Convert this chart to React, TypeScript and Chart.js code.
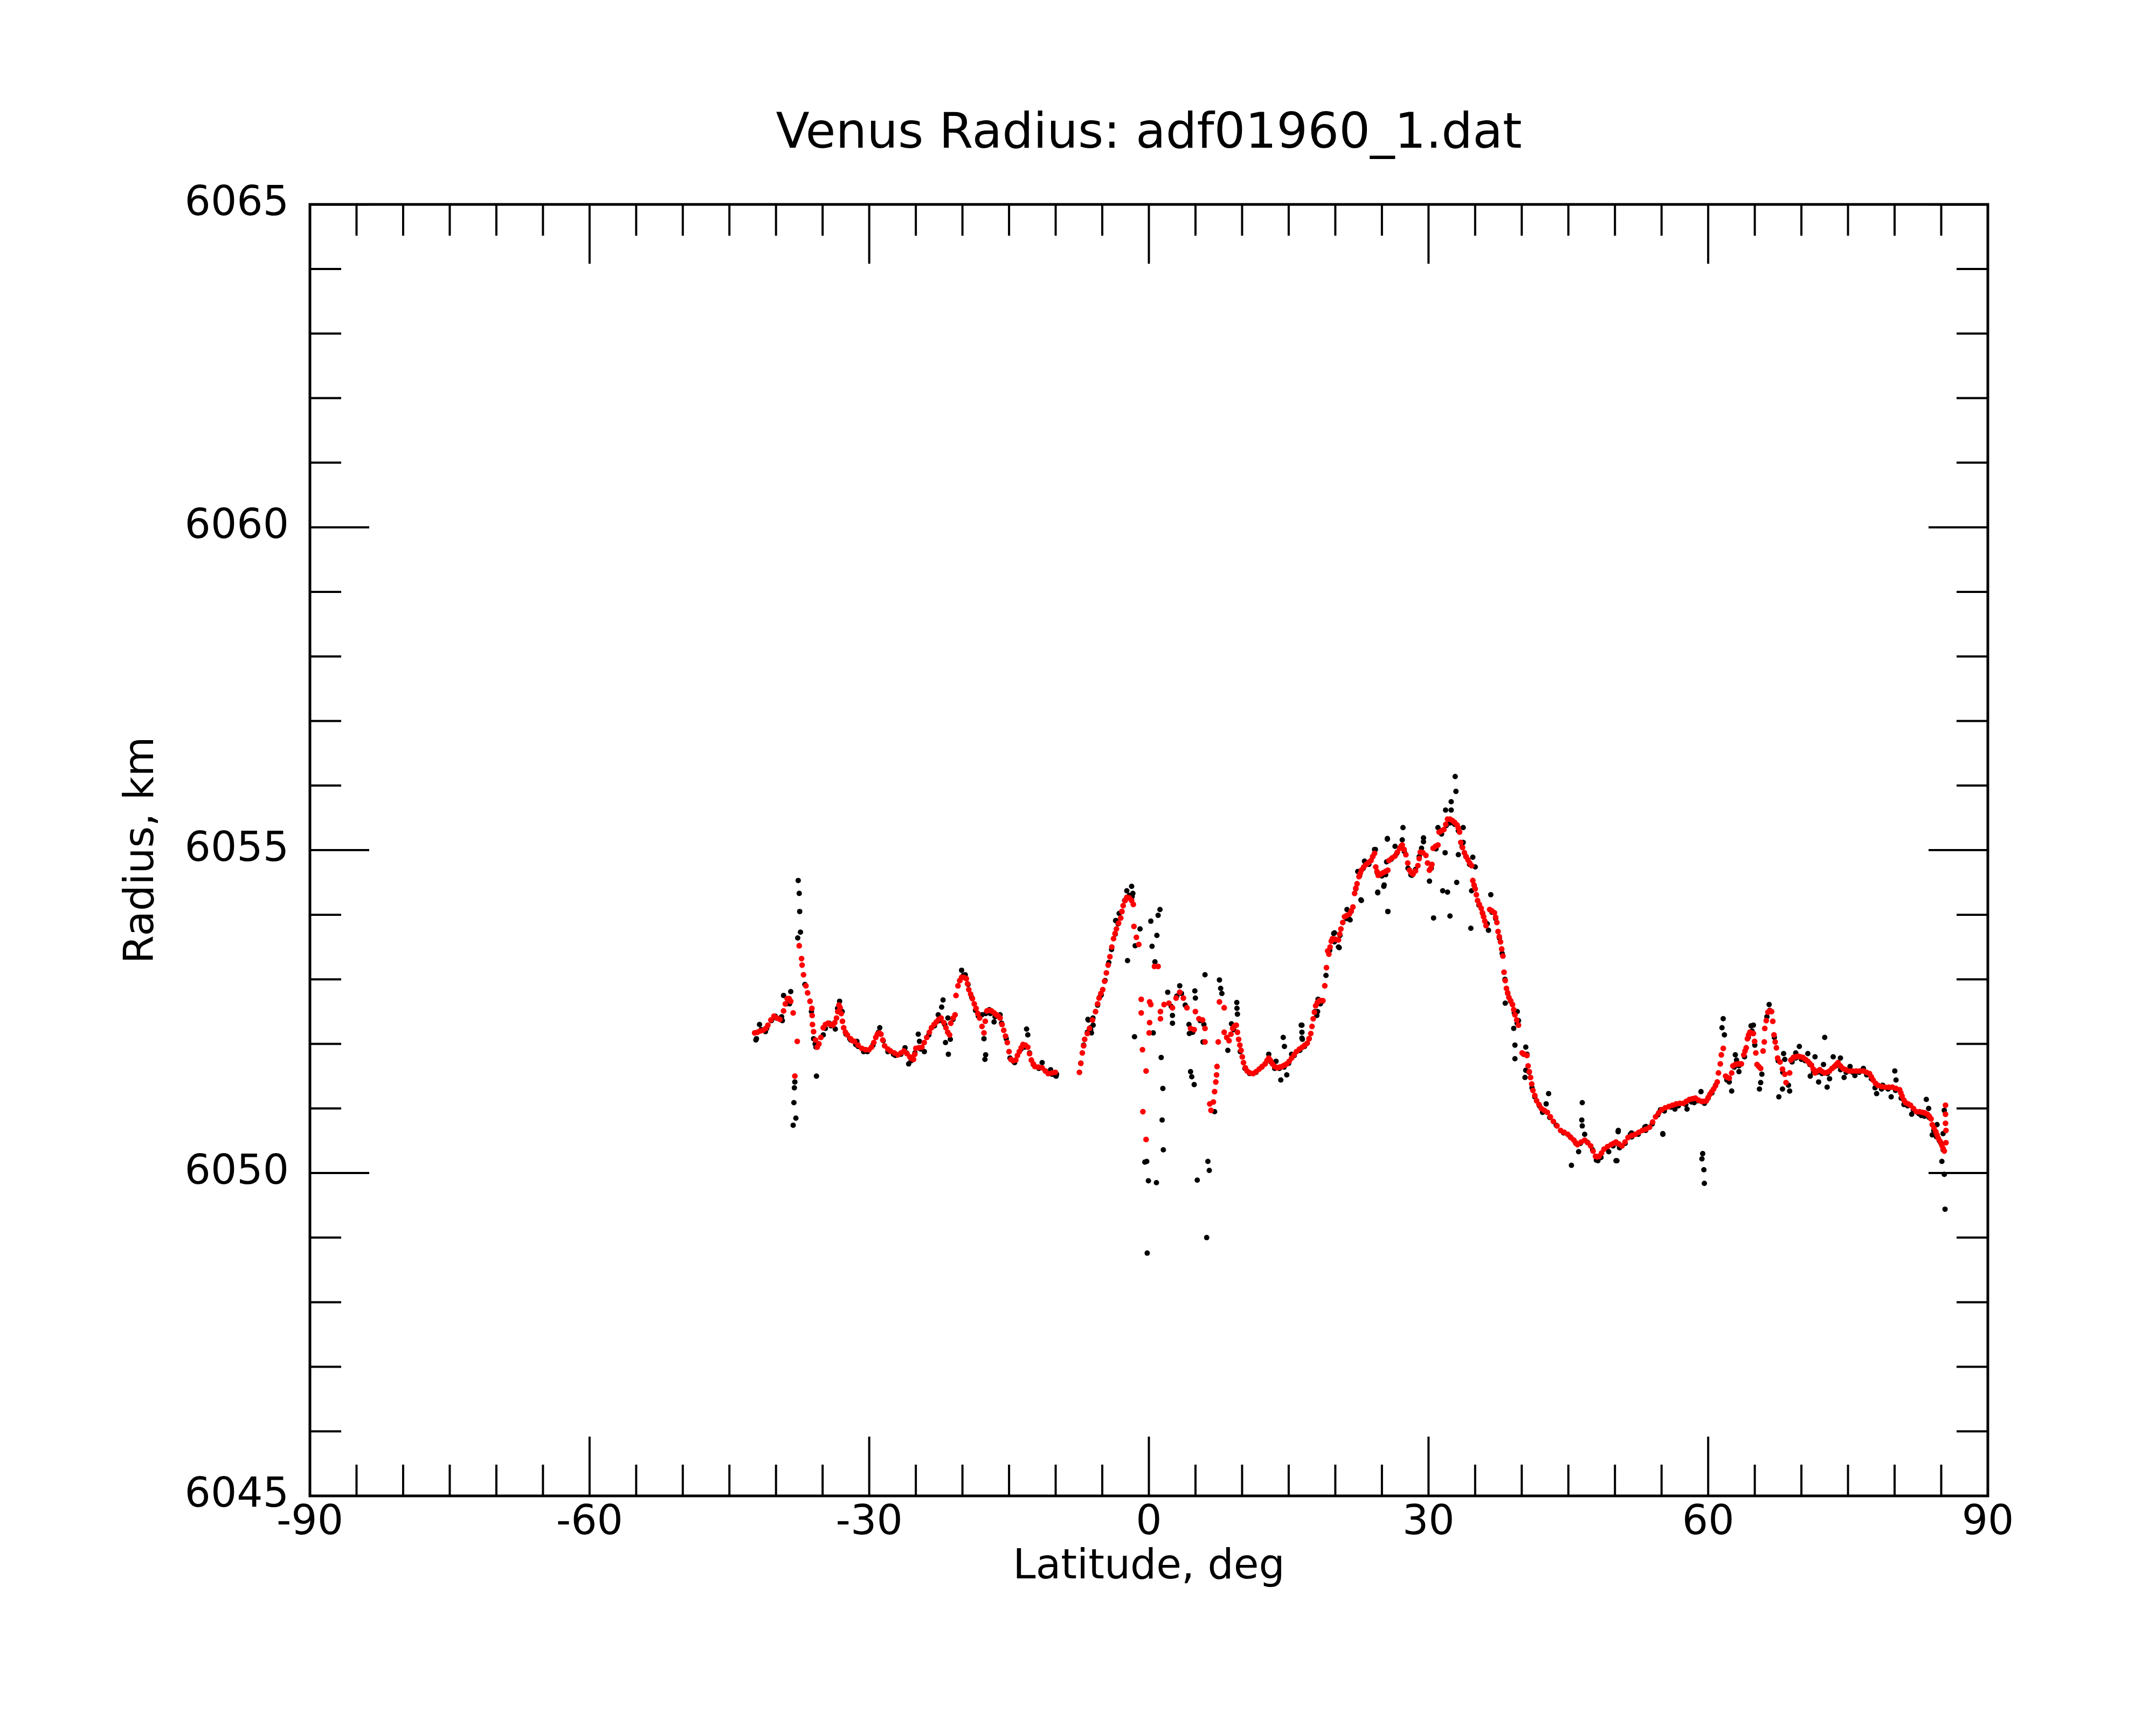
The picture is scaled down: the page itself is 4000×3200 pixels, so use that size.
import React, { useEffect, useRef } from 'react';
import { Chart, registerables } from 'chart.js';

Chart.register(...registerables);

// smoothed radius (red): [latitude deg, radius km]
const redSouth: [number, number][] = [
  [-42.29, 6052.17], [-42.0, 6052.18], [-41.7, 6052.20], [-41.39, 6052.21], [-41.1, 6052.24], [-40.87, 6052.29],
  [-40.55, 6052.37], [-40.22, 6052.43], [-39.9, 6052.40], [-39.58, 6052.38], [-39.19, 6052.51], [-39.0, 6052.62],
  [-38.80, 6052.70], [-38.6, 6052.70], [-38.42, 6052.66], [-38.16, 6052.48], [-37.98, 6051.50], [-37.72, 6052.04],
  [-37.51, 6053.52], [-37.26, 6053.32], [-37.20, 6053.22], [-37.05, 6053.07], [-36.79, 6052.90], [-36.61, 6052.79],
  [-36.35, 6052.66], [-36.15, 6052.55], [-36.12, 6052.44], [-36.09, 6052.30], [-35.97, 6052.19], [-35.76, 6052.06],
  [-35.58, 6051.95], [-35.4, 6052.00], [-35.19, 6052.10], [-34.93, 6052.25], [-34.7, 6052.30], [-34.42, 6052.32],
  [-34.15, 6052.30], [-33.90, 6052.29], [-33.7, 6052.33], [-33.51, 6052.40], [-33.38, 6052.50], [-33.25, 6052.60],
  [-33.12, 6052.56], [-33.00, 6052.47], [-32.87, 6052.35], [-32.74, 6052.25], [-32.55, 6052.18], [-32.35, 6052.14],
  [-32.0, 6052.08], [-31.8, 6052.05], [-31.58, 6052.04], [-31.2, 6051.98], [-30.80, 6051.93], [-30.4, 6051.91],
  [-30.03, 6051.91], [-29.75, 6051.95], [-29.51, 6052.02], [-29.3, 6052.10], [-29.13, 6052.15], [-28.93, 6052.17],
  [-28.74, 6052.15], [-28.55, 6052.06], [-28.35, 6051.97], [-28.0, 6051.92], [-27.71, 6051.89], [-27.3, 6051.86],
  [-26.93, 6051.83], [-26.6, 6051.86], [-26.29, 6051.89], [-25.95, 6051.85], [-25.64, 6051.80], [-25.45, 6051.77],
  [-25.25, 6051.76], [-25.12, 6051.84], [-25.00, 6051.93], [-24.7, 6051.94], [-24.35, 6051.95], [-24.1, 6052.02],
  [-23.83, 6052.10], [-23.55, 6052.18], [-23.32, 6052.25], [-23.05, 6052.30], [-22.80, 6052.34], [-22.55, 6052.38],
  [-22.29, 6052.40], [-22.0, 6052.33], [-21.77, 6052.25], [-21.58, 6052.18], [-21.38, 6052.14], [-21.25, 6052.32],
  [-21.0, 6052.40], [-20.79, 6052.45], [-20.69, 6052.75], [-20.48, 6052.90], [-20.28, 6052.98], [-20.09, 6053.03],
  [-19.85, 6053.03], [-19.58, 6053.01], [-19.45, 6052.93], [-19.32, 6052.84], [-19.12, 6052.77], [-18.93, 6052.70],
  [-18.73, 6052.62], [-18.54, 6052.55], [-18.35, 6052.47], [-18.16, 6052.40], [-17.90, 6052.27], [-17.69, 6052.17],
  [-17.55, 6052.35], [-17.38, 6052.51], [-17.12, 6052.52], [-16.87, 6052.51], [-16.6, 6052.48], [-16.35, 6052.45],
  [-16.15, 6052.43], [-15.96, 6052.40], [-15.75, 6052.30], [-15.57, 6052.21], [-15.38, 6052.12], [-15.19, 6052.02],
  [-15.0, 6051.88], [-14.80, 6051.76], [-14.55, 6051.74], [-14.28, 6051.75], [-14.1, 6051.82], [-13.90, 6051.88],
  [-13.7, 6051.94], [-13.51, 6051.99], [-13.25, 6051.98], [-12.99, 6051.95], [-12.8, 6051.85], [-12.61, 6051.75],
  [-12.4, 6051.69], [-12.22, 6051.65], [-11.85, 6051.64], [-11.45, 6051.63], [-11.1, 6051.58], [-10.80, 6051.54],
  [-10.4, 6051.55], [-10.03, 6051.56],
];
const redEquator: [number, number][] = [
  [-7.45, 6051.56], [-7.3, 6051.70], [-7.14, 6051.86], [-7.0, 6051.97], [-6.89, 6052.07], [-6.6, 6052.16],
  [-6.37, 6052.24], [-6.05, 6052.37], [-5.72, 6052.50], [-5.5, 6052.62], [-5.34, 6052.71], [-5.15, 6052.78],
  [-4.95, 6052.84], [-4.75, 6052.97], [-4.56, 6053.10], [-4.37, 6053.22], [-4.18, 6053.35], [-3.98, 6053.50],
  [-3.79, 6053.63], [-3.63, 6053.71], [-3.48, 6053.78], [-3.25, 6053.87], [-3.02, 6053.95], [-2.89, 6054.05],
  [-2.76, 6054.14], [-2.55, 6054.22], [-2.37, 6054.27], [-2.1, 6054.26], [-1.85, 6054.22], [-1.67, 6054.16],
  [-1.60, 6053.82], [-1.34, 6053.65], [-1.08, 6053.54], [-0.82, 6052.69], [-0.82, 6052.48], [-0.69, 6051.91],
  [-0.64, 6050.95], [-0.30, 6051.58], [-0.30, 6050.52], [0.03, 6052.17], [0.08, 6052.65], [0.08, 6052.33],
  [0.21, 6052.61], [0.60, 6053.20], [0.99, 6053.20], [1.24, 6052.50], [1.24, 6052.39], [1.63, 6052.61],
  [2.15, 6052.63], [2.53, 6052.56], [2.92, 6052.71], [3.31, 6052.80], [3.70, 6052.71], [4.08, 6052.56],
  [4.47, 6052.24], [4.86, 6052.22], [4.99, 6052.50], [5.37, 6052.39], [5.76, 6052.37], [6.02, 6052.24],
  [6.02, 6052.03], [6.53, 6051.07], [6.66, 6050.97], [6.92, 6051.10], [7.05, 6051.26], [7.18, 6051.41],
  [7.26, 6051.52], [7.31, 6051.65], [7.44, 6052.03], [7.57, 6052.65], [8.08, 6052.56],
];
const redNorth: [number, number][] = [
  [8.08, 6052.18], [8.35, 6052.10], [8.60, 6052.05], [8.8, 6052.15], [8.99, 6052.24], [9.2, 6052.28], [9.38, 6052.29],
  [9.5, 6052.18], [9.63, 6052.07], [9.76, 6051.98], [9.89, 6051.90], [10.02, 6051.80], [10.15, 6051.71], [10.35, 6051.63],
  [10.54, 6051.58], [10.85, 6051.55], [11.18, 6051.54], [11.5, 6051.57], [11.83, 6051.61], [12.15, 6051.65], [12.47, 6051.69],
  [12.67, 6051.74], [12.86, 6051.78], [13.05, 6051.74], [13.25, 6051.69], [13.5, 6051.65], [13.76, 6051.63], [14.02, 6051.64],
  [14.28, 6051.65], [14.53, 6051.67], [14.79, 6051.69], [15.05, 6051.73], [15.31, 6051.78], [15.57, 6051.83], [15.83, 6051.88],
  [16.15, 6051.92], [16.47, 6051.95], [16.73, 6051.98], [16.99, 6052.01], [17.18, 6052.08], [17.37, 6052.16], [17.5, 6052.27],
  [17.63, 6052.39], [17.76, 6052.49], [17.89, 6052.59], [18.08, 6052.64], [18.28, 6052.67], [18.47, 6052.67], [18.67, 6052.67],
  [18.87, 6052.90], [19.05, 6053.18], [19.18, 6053.44], [19.31, 6053.39], [19.44, 6053.50], [19.57, 6053.59], [19.70, 6053.63],
  [20.0, 6053.62], [20.34, 6053.61], [20.47, 6053.70], [20.60, 6053.78], [20.8, 6053.88], [20.99, 6053.97], [21.25, 6053.99],
  [21.50, 6054.01], [21.7, 6054.06], [21.89, 6054.12], [22.07, 6054.33], [22.2, 6054.41], [22.33, 6054.48], [22.54, 6054.59],
  [22.67, 6054.64], [22.80, 6054.69], [23.05, 6054.74], [23.31, 6054.78], [23.57, 6054.81], [23.83, 6054.84], [24.02, 6054.90],
  [24.21, 6054.95], [24.34, 6054.74], [24.47, 6054.67], [24.60, 6054.61], [24.86, 6054.63], [25.12, 6054.65], [25.38, 6054.67],
  [25.63, 6054.69], [25.76, 6054.84], [26.1, 6054.88], [26.41, 6054.91], [26.66, 6054.97], [26.92, 6055.03], [27.05, 6055.06],
  [27.18, 6055.08], [27.38, 6055.01], [27.57, 6054.93], [27.77, 6054.80], [27.96, 6054.69], [28.15, 6054.65], [28.34, 6054.63],
  [28.6, 6054.68], [28.86, 6054.76], [29.0, 6054.87], [29.12, 6054.97], [29.4, 6054.96], [29.72, 6054.92], [29.9, 6054.80],
  [30.10, 6054.69], [30.23, 6054.72], [30.36, 6054.78], [30.49, 6055.03], [30.75, 6055.06], [31.01, 6055.08], [31.14, 6055.28],
  [31.4, 6055.30], [31.65, 6055.32], [31.85, 6055.40], [32.04, 6055.48], [32.3, 6055.48], [32.55, 6055.46], [32.8, 6055.43],
  [33.07, 6055.39], [33.2, 6055.34], [33.33, 6055.28], [33.46, 6055.12], [33.65, 6055.04], [33.85, 6054.96], [34.04, 6054.90],
  [34.23, 6054.85], [34.42, 6054.80], [34.62, 6054.76], [34.75, 6054.53], [34.88, 6054.46], [35.01, 6054.40], [35.13, 6054.31],
  [35.26, 6054.22], [35.45, 6054.16], [35.65, 6054.10], [35.78, 6054.03], [35.91, 6053.97], [36.04, 6053.90], [36.17, 6053.83],
  [36.56, 6054.08], [36.8, 6054.06], [37.07, 6054.03], [37.2, 6053.96], [37.33, 6053.88], [37.46, 6053.74], [37.59, 6053.66],
  [37.72, 6053.58], [37.85, 6053.47], [37.98, 6053.36], [38.10, 6053.11], [38.23, 6052.98], [38.36, 6052.86], [38.49, 6052.79],
  [38.62, 6052.72], [38.8, 6052.67], [39.01, 6052.61], [39.14, 6052.53], [39.27, 6052.45], [39.46, 6052.37], [39.65, 6052.29],
  [40.04, 6051.86], [40.3, 6051.84], [40.56, 6051.82], [40.68, 6051.66], [40.81, 6051.57], [40.94, 6051.48], [41.07, 6051.38],
  [41.20, 6051.28], [41.4, 6051.20], [41.59, 6051.12], [41.85, 6051.06], [42.10, 6051.00], [42.42, 6050.97], [42.75, 6050.94],
  [43.07, 6050.87], [43.39, 6050.80], [43.78, 6050.73], [44.17, 6050.66], [44.55, 6050.63], [44.94, 6050.60], [45.27, 6050.55],
  [45.59, 6050.51], [45.78, 6050.47], [45.98, 6050.44], [46.37, 6050.48], [46.75, 6050.51], [47.08, 6050.47], [47.40, 6050.42],
  [47.65, 6050.34], [47.91, 6050.26], [48.1, 6050.25], [48.30, 6050.26], [48.56, 6050.31], [48.82, 6050.37], [49.2, 6050.41],
  [49.59, 6050.44], [49.85, 6050.46], [50.11, 6050.48], [50.43, 6050.45], [50.75, 6050.42], [51.08, 6050.48], [51.40, 6050.55],
  [51.78, 6050.58], [52.17, 6050.60], [52.55, 6050.63], [52.94, 6050.66], [53.33, 6050.68], [53.72, 6050.71], [54.04, 6050.79],
  [54.36, 6050.87], [54.68, 6050.93], [55.01, 6050.98], [55.4, 6051.01], [55.78, 6051.03], [56.17, 6051.05], [56.56, 6051.07],
  [56.95, 6051.08], [57.34, 6051.08], [57.66, 6051.11], [57.99, 6051.14], [58.31, 6051.15], [58.63, 6051.16], [58.95, 6051.13],
  [59.28, 6051.11], [59.54, 6051.11], [59.80, 6051.12], [60.0, 6051.17], [60.19, 6051.22], [60.38, 6051.26], [60.58, 6051.30],
  [60.78, 6051.35], [60.97, 6051.41], [61.10, 6051.55], [61.30, 6051.69], [61.41, 6051.83], [61.62, 6051.93], [61.87, 6051.50],
  [62.06, 6051.48], [62.26, 6051.47], [62.52, 6051.55], [62.65, 6051.66], [62.9, 6051.68], [63.17, 6051.69], [63.36, 6051.69],
  [63.56, 6051.69], [63.82, 6051.83], [63.95, 6051.89], [64.08, 6051.94], [64.21, 6052.08], [64.34, 6052.14], [64.47, 6052.18],
  [64.66, 6052.17], [64.85, 6052.16], [64.98, 6052.04], [65.11, 6051.86], [65.24, 6051.68], [65.43, 6051.65], [65.63, 6051.62],
  [65.89, 6051.89], [66.02, 6052.03], [66.07, 6052.24], [66.23, 6052.36], [66.41, 6052.49], [66.6, 6052.51], [66.80, 6052.50],
  [66.93, 6052.35], [67.06, 6052.14], [67.19, 6052.03], [67.32, 6051.94], [67.45, 6051.78], [67.71, 6051.72], [67.97, 6051.61],
  [68.22, 6051.53], [68.35, 6051.40], [68.74, 6051.55], [68.87, 6051.75], [69.13, 6051.79], [69.39, 6051.80], [69.65, 6051.81],
  [69.91, 6051.80], [70.17, 6051.79], [70.43, 6051.76], [70.69, 6051.73], [70.88, 6051.70], [71.08, 6051.67], [71.27, 6051.61],
  [71.46, 6051.55], [71.72, 6051.58], [71.98, 6051.60], [72.24, 6051.57], [72.50, 6051.55], [72.76, 6051.56], [73.02, 6051.58],
  [73.28, 6051.62], [73.54, 6051.65], [73.74, 6051.68], [73.93, 6051.71], [74.19, 6051.66], [74.45, 6051.62], [74.77, 6051.60],
  [75.09, 6051.58], [75.48, 6051.58], [75.87, 6051.58], [76.26, 6051.58], [76.65, 6051.58], [76.98, 6051.56], [77.30, 6051.54],
  [77.5, 6051.49], [77.69, 6051.44], [77.95, 6051.39], [78.20, 6051.36], [78.6, 6051.34], [78.98, 6051.33], [79.37, 6051.33],
  [79.76, 6051.33], [80.15, 6051.31], [80.54, 6051.29], [80.67, 6051.24], [80.80, 6051.19], [81.0, 6051.13], [81.18, 6051.09],
  [81.44, 6051.07], [81.70, 6051.05], [82.02, 6051.00], [82.35, 6050.95], [82.68, 6050.95], [83.00, 6050.94], [83.26, 6050.93],
  [83.52, 6050.91], [83.72, 6050.88], [83.91, 6050.84], [84.04, 6050.75], [84.23, 6050.70], [84.42, 6050.64], [84.55, 6050.59],
  [84.68, 6050.54], [84.88, 6050.49], [85.07, 6050.43], [85.2, 6050.38], [85.33, 6050.34], [85.46, 6051.05], [85.46, 6050.91],
  [85.46, 6050.77], [85.51, 6050.66], [85.51, 6050.47],
];

// raw radius points (black)
const blackLat = [
  -42.16, -42.10, -41.77, -41.60, -41.13, -41.00, -40.50, -40.09, -40.00, -39.40, -39.32, -39.19, -38.90, -38.60, -38.55, -38.42,
  -38.16, -38.08, -38.03, -37.98, -37.87, -37.67, -37.62, -37.51, -37.46, -37.38, -36.90, -36.20, -35.97, -35.80, -35.71, -35.66,
  -35.40, -34.93, -34.70, -34.29, -34.10, -33.64, -33.40, -33.18, -32.90, -32.50, -32.09, -32.00, -31.45, -31.32, -31.20, -30.60,
  -30.42, -30.20, -29.60, -29.00, -28.87, -28.50, -28.00, -27.40, -27.19, -26.60, -26.16, -26.00, -25.77, -25.50, -25.10, -24.74,
  -24.61, -24.50, -24.09, -23.60, -23.00, -22.60, -22.50, -22.23, -22.08, -21.90, -21.82, -21.56, -21.51, -21.30, -21.00, -20.30,
  -20.09, -19.90, -19.70, -19.40, -19.00, -18.60, -18.30, -17.90, -17.69, -17.59, -17.51, -17.50, -17.12, -17.00, -16.61, -16.50,
  -15.96, -15.80, -15.30, -14.90, -14.54, -14.40, -13.70, -13.30, -13.12, -12.99, -12.80, -12.40, -11.80, -11.45, -11.10, -10.54,
  -10.40, -10.11, -9.95, -9.90,
  -7.30, -7.00, -6.60, -6.54, -6.50, -6.28, -6.24, -6.16, -6.00, -5.98, -5.50, -5.25, -5.10, -4.70, -4.30, -4.00, -3.60, -3.57,
  -3.53, -3.30, -3.19, -2.90, -2.60, -2.37, -2.29, -2.10, -1.85, -1.80, -1.72, -1.54, -1.47, -0.95, -0.43, -0.23, -0.18, -0.05,
  0.21, 0.34, 0.47, 0.65, 0.81, 0.86, 0.99, 1.19, 1.32, 1.42, 1.50, 1.55, 2.02, 2.40, 2.53, 2.53, 3.00, 3.31, 3.50, 3.90, 4.30,
  4.34, 4.47, 4.60, 4.70, 4.86, 4.93, 4.99, 5.19, 5.50, 5.81, 5.90, 6.02, 6.20, 6.33, 6.48, 7.05, 7.57, 7.70, 7.83, 8.47, 8.86,
  9.10, 9.43, 9.45, 9.50, 9.80, 10.30, 10.80, 11.50, 12.10, 12.70, 12.86, 13.10, 13.50, 13.64, 14.00, 14.15, 14.41, 14.50, 14.54,
  14.79, 15.00, 15.31, 15.60, 16.20, 16.34, 16.42, 16.42, 16.42, 16.47, 16.70, 17.20, 17.80, 18.02, 18.10, 18.15, 18.40, 18.62,
  19.00, 19.40, 19.83, 19.90, 19.91, 20.34, 20.42, 20.50, 21.20, 21.25, 21.50, 21.59, 21.70, 22.20, 22.41, 22.60, 22.75, 22.80,
  23.00, 23.13, 23.18, 23.60, 24.00, 24.21, 24.30, 24.50, 24.55, 24.55, 25.00, 25.20, 25.24, 25.40, 25.50, 25.58, 25.59, 25.63,
  25.64, 26.00, 26.41, 26.60, 27.18, 27.26, 27.40, 27.80, 28.10, 28.21, 28.60, 29.00, 29.25, 29.46, 29.46, 29.90, 30.10, 30.30,
  30.54, 30.80, 31.01, 31.26, 31.40, 31.52, 31.78, 31.83, 31.90, 32.04, 32.30, 32.30, 32.43, 32.43, 32.80, 32.86, 32.94, 33.02,
  33.20, 33.20, 33.60, 33.72, 33.72, 34.00, 34.40, 34.54, 34.62, 34.75, 34.90, 35.01, 35.40, 35.80, 36.30, 36.43, 36.68, 36.80,
  37.20, 37.60, 37.90, 38.20, 38.23, 38.50, 38.80, 39.14, 39.20, 39.27, 39.27, 39.50, 39.52, 39.65, 40.20, 40.35, 40.43, 40.43,
  40.56, 40.80, 41.10, 41.40, 41.90, 42.23, 42.40, 42.62, 42.88, 43.00, 43.70, 44.50, 45.20, 45.33, 45.80, 46.10, 46.30, 46.44,
  46.49, 46.49, 46.75, 47.00, 47.60, 48.00, 48.17, 48.50, 49.10, 49.33, 49.80, 50.11, 50.21, 50.34, 50.36, 50.40, 50.49, 51.10,
  51.65, 51.77, 51.80, 52.50, 53.20, 53.30, 53.32, 54.00, 54.60, 54.88, 55.13, 55.14, 55.30, 56.00, 56.43, 56.80, 57.60, 57.73,
  58.20, 58.50, 58.90, 59.23, 59.33, 59.41, 59.54, 59.59, 59.60, 60.00, 60.40, 60.80, 61.48, 61.61, 61.74, 62.00, 62.26, 62.52,
  62.80, 62.91, 63.04, 63.30, 63.30, 63.90, 64.30, 64.60, 64.70, 64.85, 65.00, 65.50, 65.63, 65.76, 66.30, 66.54, 66.60, 67.10,
  67.50, 67.58, 67.97, 68.00, 68.09, 68.22, 68.61, 68.74, 69.00, 69.39, 69.40, 69.78, 70.00, 70.40, 70.69, 70.90, 70.95, 71.30,
  71.46, 71.70, 71.85, 72.20, 72.37, 72.50, 72.76, 72.80, 73.02, 73.30, 73.41, 73.70, 74.19, 74.20, 74.58, 74.80, 75.22, 75.50,
  75.74, 76.20, 76.65, 77.00, 77.50, 77.90, 78.07, 78.60, 78.72, 79.30, 79.63, 80.02, 80.10, 80.15, 80.70, 81.00, 81.40, 81.83,
  82.00, 82.60, 82.87, 83.20, 83.40, 83.65, 83.70, 84.04, 84.20, 84.50, 84.55, 84.80, 84.94, 85.07, 85.20, 85.20, 85.33, 85.33,
  85.41,
];
const blackRad = [
  6052.06, 6052.08, 6052.30, 6052.22, 6052.19, 6052.24, 6052.36, 6052.43, 6052.40, 6052.42, 6052.36, 6052.75, 6052.62, 6052.70, 6052.62, 6052.81,
  6050.74, 6051.09, 6051.32, 6051.41, 6050.85, 6053.64, 6054.53, 6054.33, 6054.05, 6053.73, 6052.92, 6052.50, 6052.08, 6052.00, 6051.95, 6051.50,
  6052.00, 6052.14, 6052.24, 6052.32, 6052.28, 6052.23, 6052.55, 6052.66, 6052.50, 6052.15, 6052.08, 6052.06, 6051.99, 6052.04, 6051.96, 6051.88,
  6051.91, 6051.88, 6051.98, 6052.18, 6052.25, 6052.05, 6051.88, 6051.84, 6051.82, 6051.84, 6051.94, 6051.86, 6051.69, 6051.74, 6051.86, 6052.15,
  6052.04, 6051.92, 6051.88, 6052.14, 6052.28, 6052.45, 6052.36, 6052.57, 6052.68, 6052.30, 6052.02, 6052.40, 6051.84, 6052.07, 6052.38, 6052.98,
  6053.14, 6053.06, 6053.07, 6052.92, 6052.72, 6052.52, 6052.43, 6052.45, 6052.08, 6051.76, 6051.83, 6052.47, 6052.53, 6052.47, 6052.34, 6052.42,
  6052.45, 6052.32, 6052.08, 6051.78, 6051.73, 6051.71, 6051.92, 6051.95, 6052.23, 6052.14, 6051.86, 6051.68, 6051.62, 6051.71, 6051.58, 6051.60,
  6051.53, 6051.52, 6051.50, 6051.53,
  6051.70, 6051.98, 6052.18, 6052.38, 6052.37, 6052.25, 6052.22, 6052.17, 6052.40, 6052.29, 6052.60, 6052.73, 6052.76, 6052.98, 6053.26, 6053.46, 6053.70, 6053.91,
  6053.91, 6053.86, 6054.02, 6054.05, 6054.22, 6054.37, 6053.29, 6054.30, 6054.44, 6054.28, 6054.33, 6052.11, 6053.52, 6053.78, 6050.17, 6050.18, 6048.76, 6049.88,
  6053.90, 6053.51, 6052.17, 6053.27, 6049.85, 6053.68, 6053.99, 6054.08, 6051.79, 6050.82, 6051.31, 6050.36, 6052.80, 6052.58, 6052.44, 6052.32, 6052.74, 6052.90, 6052.78, 6052.60, 6052.30,
  6052.16, 6051.57, 6051.49, 6052.18, 6051.37, 6052.82, 6052.71, 6049.89, 6052.36, 6052.03, 6052.30, 6053.07, 6049.00, 6050.18, 6050.04, 6050.95, 6052.99, 6052.86, 6052.78, 6051.90, 6052.31,
  6052.22, 6052.64, 6052.55, 6052.46, 6051.88, 6051.62, 6051.54, 6051.56, 6051.64, 6051.74, 6051.84, 6051.72, 6051.62, 6051.73, 6051.62, 6051.44, 6052.10, 6051.64, 6051.96,
  6051.52, 6051.70, 6051.84, 6051.82, 6051.90, 6052.29, 6052.18, 6052.29, 6052.09, 6052.07, 6051.96, 6052.08, 6052.50, 6052.44, 6052.50, 6052.69, 6052.62, 6052.66,
  6053.06, 6053.45, 6053.71, 6053.58, 6053.72, 6053.50, 6053.49, 6053.68, 6053.94, 6054.08, 6053.93, 6053.92, 6054.05, 6054.40, 6054.67, 6054.60, 6054.23, 6054.22,
  6054.72, 6054.83, 6054.82, 6054.78, 6054.90, 6055.01, 6055.01, 6054.65, 6054.35, 6054.34, 6054.60, 6054.44, 6054.46, 6054.62, 6054.82, 6055.17, 6055.18, 6054.05,
  6054.05, 6054.86, 6055.06, 6054.95, 6055.16, 6055.35, 6054.98, 6054.72, 6054.62, 6054.61, 6054.70, 6054.90, 6055.03, 6055.19, 6055.13, 6054.80, 6054.52, 6054.72,
  6053.95, 6055.02, 6055.35, 6055.28, 6055.25, 6054.37, 6054.96, 6055.62, 6055.38, 6054.35, 6055.42, 6053.98, 6055.75, 6055.62, 6055.40, 6056.14, 6055.91, 6054.50,
  6055.30, 6054.93, 6055.05, 6055.35, 6055.12, 6054.90, 6054.78, 6053.79, 6054.37, 6054.89, 6054.45, 6054.74, 6054.15, 6054.02, 6053.86, 6053.76, 6054.31, 6054.04,
  6053.94, 6053.64, 6053.40, 6053.00, 6052.63, 6052.78, 6052.66, 6052.24, 6052.48, 6051.98, 6051.77, 6052.32, 6052.50, 6052.36, 6051.84, 6051.48, 6051.95, 6051.59,
  6051.84, 6051.56, 6051.32, 6051.18, 6051.04, 6050.94, 6050.96, 6051.07, 6051.23, 6050.86, 6050.74, 6050.62, 6050.56, 6050.12, 6050.46, 6050.33, 6050.46, 6050.82,
  6051.09, 6050.73, 6050.60, 6050.48, 6050.36, 6050.20, 6050.19, 6050.24, 6050.38, 6050.33, 6050.42, 6050.19, 6050.19, 6050.64, 6050.66, 6050.44, 6050.39, 6050.46,
  6050.60, 6050.62, 6050.56, 6050.60, 6050.71, 6050.66, 6050.72, 6050.76, 6050.90, 6050.98, 6050.61, 6050.60, 6050.96, 6051.02, 6050.99, 6051.04, 6051.06, 6050.99,
  6051.10, 6051.09, 6051.12, 6051.26, 6050.22, 6050.30, 6050.05, 6049.84, 6051.08, 6051.16, 6051.24, 6051.36, 6052.25, 6052.39, 6052.14, 6051.44, 6051.41, 6051.27,
  6051.64, 6051.83, 6051.75, 6051.57, 6051.66, 6051.80, 6052.10, 6052.28, 6052.20, 6052.29, 6051.98, 6051.30, 6051.40, 6051.53, 6052.42, 6052.61, 6052.52, 6052.10,
  6051.74, 6051.18, 6051.30, 6051.56, 6051.85, 6051.76, 6051.36, 6051.27, 6051.72, 6051.86, 6051.78, 6051.96, 6051.76, 6051.74, 6051.85, 6051.68, 6051.50, 6051.56,
  6051.80, 6051.56, 6051.41, 6051.54, 6051.68, 6052.10, 6051.33, 6051.54, 6051.46, 6051.62, 6051.80, 6051.66, 6051.78, 6051.60, 6051.48, 6051.56, 6051.65, 6051.56,
  6051.51, 6051.56, 6051.62, 6051.52, 6051.46, 6051.32, 6051.23, 6051.30, 6051.36, 6051.30, 6051.18, 6051.58, 6051.28, 6051.44, 6051.16, 6051.06, 6051.04, 6050.91,
  6050.98, 6050.92, 6050.89, 6050.88, 6051.14, 6051.00, 6050.86, 6050.59, 6050.66, 6050.56, 6050.75, 6050.50, 6050.47, 6050.18, 6050.36, 6050.61, 6049.98, 6050.97,
  6049.44,
];

const xMajorTicks = [-90, -60, -30, 0, 30, 60, 90];
const xMinorTicks = [-85, -80, -75, -70, -65, -55, -50, -45, -40, -35, -25, -20, -15, -10, -5, 5, 10, 15, 20, 25, 35, 40, 45, 50, 55, 65, 70, 75, 80, 85];
const yMajorTicks = [6045, 6050, 6055, 6060, 6065];
const yMinorTicks = [6046, 6047, 6048, 6049, 6051, 6052, 6053, 6054, 6056, 6057, 6058, 6059, 6061, 6062, 6063, 6064];

const FONT = 'DejaVu Sans';

// frame and inward ticks on all four sides
const frameTicks = {
  id: 'frameTicks',
  afterDatasetsDraw(chart: Chart) {
    const { ctx, chartArea: a } = chart;
    const x = chart.scales.x;
    const y = chart.scales.y;
    ctx.save();
    ctx.strokeStyle = '#000';
    ctx.lineWidth = 4;
    ctx.beginPath();
    const vTick = (v: number, len: number) => {
      const px = x.getPixelForValue(v);
      ctx.moveTo(px, a.bottom);
      ctx.lineTo(px, a.bottom - len);
      ctx.moveTo(px, a.top);
      ctx.lineTo(px, a.top + len);
    };
    const hTick = (v: number, len: number) => {
      const py = y.getPixelForValue(v);
      ctx.moveTo(a.left, py);
      ctx.lineTo(a.left + len, py);
      ctx.moveTo(a.right, py);
      ctx.lineTo(a.right - len, py);
    };
    xMajorTicks.forEach(v => vTick(v, 110));
    xMinorTicks.forEach(v => vTick(v, 58));
    yMajorTicks.forEach(v => hTick(v, 110));
    yMinorTicks.forEach(v => hTick(v, 58));
    ctx.stroke();
    ctx.lineWidth = 5;
    ctx.strokeRect(a.left, a.top, a.right - a.left, a.bottom - a.top);
    ctx.restore();
  },
};

const toXY = (p: [number, number]) => ({ x: p[0], y: p[1] });

export default function App() {
  const canvasRef = useRef<HTMLCanvasElement>(null);

  useEffect(() => {
    if (!canvasRef.current) return;
    const chart = new Chart(canvasRef.current, {
      type: 'scatter',
      data: {
        datasets: [
          {
            label: 'smoothed',
            data: [...redSouth, ...redEquator, ...redNorth].map(toXY),
            pointRadius: 5.3,
            pointBorderWidth: 0,
            pointBackgroundColor: '#ff0000',
            pointBorderColor: '#ff0000',
          },
          {
            label: 'raw',
            data: blackLat.map((v, i) => ({ x: v, y: blackRad[i] })),
            pointRadius: 5,
            pointBorderWidth: 0,
            pointBackgroundColor: '#000000',
            pointBorderColor: '#000000',
          },
        ],
      },
      options: {
        animation: false,
        responsive: false,
        devicePixelRatio: 1,
        events: [],
        layout: { padding: { top: 0, right: 312, bottom: 0, left: 0 } },
        plugins: {
          legend: { display: false },
          tooltip: { enabled: false },
          title: {
            display: true,
            fullSize: false,
            text: 'Venus Radius: adf01960_1.dat',
            color: '#000',
            font: { family: FONT, size: 91, weight: 'normal' },
            padding: { top: 196, bottom: 74 },
          },
        },
        scales: {
          x: {
            type: 'linear',
            min: -90,
            max: 90,
            grid: { display: false, drawTicks: false, tickLength: 0 },
            border: { display: false },
            ticks: {
              stepSize: 30,
              padding: 6,
              color: '#000',
              font: { family: FONT, size: 76 },
              maxRotation: 0,
              callback: (v: number | string) => String(v),
            },
            title: {
              display: true,
              text: 'Latitude, deg',
              color: '#000',
              font: { family: FONT, size: 76 },
              padding: { top: 0, bottom: 246 },
            },
            afterFit: (s: any) => { s.height = 425; },
          },
          y: {
            type: 'linear',
            min: 6045,
            max: 6065,
            grid: { display: false, drawTicks: false, tickLength: 0 },
            border: { display: false },
            ticks: {
              stepSize: 5,
              padding: 39,
              color: '#000',
              font: { family: FONT, size: 76 },
              callback: (v: number | string) => String(v),
            },
            title: {
              display: true,
              text: 'Radius, km',
              color: '#000',
              font: { family: FONT, size: 76 },
              padding: { top: 219, bottom: 0 },
            },
            afterFit: (s: any) => { s.width = 575; },
          },
        },
      },
      plugins: [frameTicks],
    });
    return () => chart.destroy();
  }, []);

  return (
    <div style={{ position: 'absolute', left: 0, top: 0, width: 4000, height: 3200, background: '#fff' }}>
      <canvas ref={canvasRef} width={4000} height={3200} />
    </div>
  );
}
